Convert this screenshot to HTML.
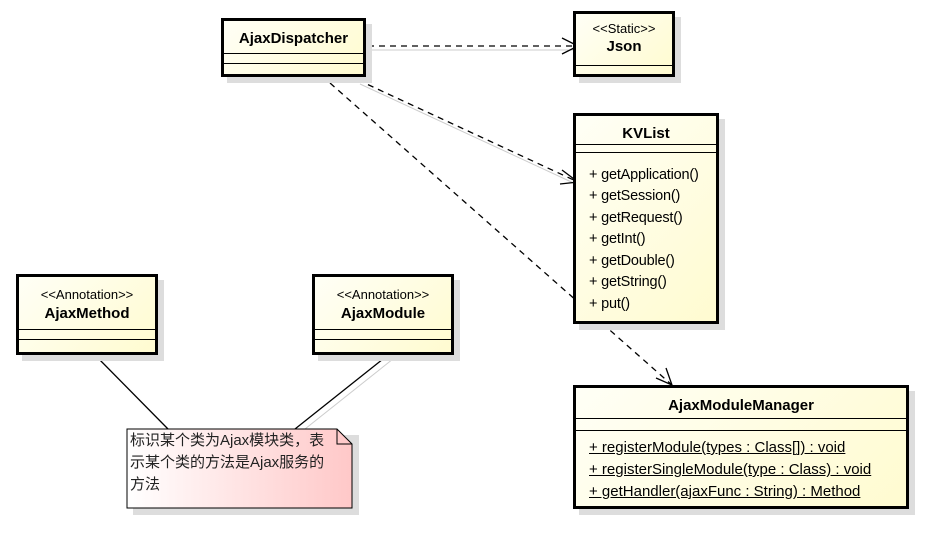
<!DOCTYPE html>
<html><head><meta charset="utf-8"><style>
body{margin:0;width:925px;height:534px;background:#fff;position:relative;overflow:hidden;font-family:"Liberation Sans","Noto Sans CJK SC",sans-serif;}
.b{position:absolute;border:3px solid #000;background:linear-gradient(135deg,#fffff6,#fffbd0);box-shadow:6px 6px 0 #ddd;box-sizing:border-box;}
.t{text-align:center;font-weight:bold;font-size:15px;}
.s{text-align:center;font-size:13px;}
.l{position:absolute;left:0;right:0;border-top:1px solid #000;}
.m{position:absolute;left:13px;font-size:14.5px;white-space:nowrap;letter-spacing:-0.2px;}
.u{text-decoration:underline;font-size:15px;letter-spacing:0;}
</style></head><body>
<svg width="925" height="534" style="position:absolute;left:0;top:0">
<g stroke="#ccc" stroke-width="1" fill="none">
<line x1="368" y1="50" x2="580" y2="50"/><line x1="360" y1="84" x2="580" y2="186"/>
<line x1="398" y1="355" x2="305" y2="429"/>
</g>
<g stroke="#000" stroke-width="1.3" fill="none">
<line x1="368" y1="46" x2="578" y2="46" stroke-dasharray="6,5"/>
<polyline points="562,38 578,46 562,54"/>
<line x1="358" y1="80" x2="578" y2="182" stroke-dasharray="6,5"/>
<polyline points="562,170 578,182 560,184"/>
<line x1="330" y1="83" x2="672" y2="385" stroke-dasharray="6,5"/>
<polyline points="656,378 672,385 666,368"/>
<line x1="95" y1="355" x2="168" y2="429"/>
<line x1="388" y1="355" x2="295" y2="429"/>
</g>
</svg>
<div class="b" style="left:221px;top:18px;width:145px;height:59px"><div class="t" style="margin-top:9px">AjaxDispatcher</div><div class="l" style="top:32px"></div><div class="l" style="top:42px"></div></div>
<div class="b" style="left:573px;top:11px;width:102px;height:66px"><div class="s" style="margin-top:7px">&lt;&lt;Static&gt;&gt;</div><div class="t" style="margin-top:2px">Json</div><div class="l" style="top:51px"></div></div>
<div class="b" style="left:573px;top:113px;width:146px;height:211px"><div class="t" style="margin-top:9px">KVList</div><div class="l" style="top:28px"></div><div class="l" style="top:36px"></div>
<div class="m" style="top:51px">+ getApplication()</div><div class="m" style="top:72px">+ getSession()</div><div class="m" style="top:94px">+ getRequest()</div><div class="m" style="top:115px">+ getInt()</div><div class="m" style="top:137px">+ getDouble()</div><div class="m" style="top:158px">+ getString()</div><div class="m" style="top:180px">+ put()</div></div>
<div class="b" style="left:16px;top:274px;width:142px;height:81px"><div class="s" style="margin-top:10px">&lt;&lt;Annotation&gt;&gt;</div><div class="t" style="margin-top:3px">AjaxMethod</div><div class="l" style="top:52px"></div><div class="l" style="top:62px"></div></div>
<div class="b" style="left:312px;top:274px;width:142px;height:81px"><div class="s" style="margin-top:10px">&lt;&lt;Annotation&gt;&gt;</div><div class="t" style="margin-top:3px">AjaxModule</div><div class="l" style="top:52px"></div><div class="l" style="top:62px"></div></div>
<div class="b" style="left:573px;top:385px;width:336px;height:124px"><div class="t" style="margin-top:9px">AjaxModuleManager</div><div class="l" style="top:30px"></div><div class="l" style="top:42px"></div>
<div class="m u" style="top:51px">+ registerModule(types : Class[]) : void</div><div class="m u" style="top:73px">+ registerSingleModule(type : Class) : void</div><div class="m u" style="top:95px">+ getHandler(ajaxFunc : String) : Method</div></div>
<svg width="240" height="90" style="position:absolute;left:126px;top:428px">
<defs><linearGradient id="g" x1="0" y1="0" x2="1" y2="0"><stop offset="0" stop-color="#fff"/><stop offset="1" stop-color="#ffc8c8"/></linearGradient></defs>
<polygon points="7,7 233,7 233,87 7,87" fill="#ddd"/>
<polygon points="1,1 211,1 226,16 226,80 1,80" fill="url(#g)" stroke="#000"/>
<polyline points="211,1 211,16 226,16" fill="none" stroke="#000"/>
</svg>
<div style="position:absolute;left:130px;top:430px;width:215px;font-size:15px;line-height:22px;color:#222">标识某个类为Ajax模块类，表<br>示某个类的方法是Ajax服务的<br>方法</div>
</body></html>
